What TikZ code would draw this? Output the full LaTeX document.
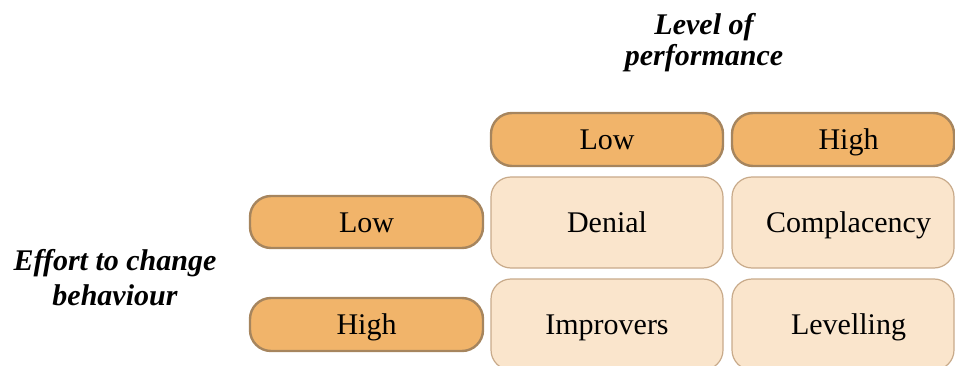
\documentclass[tikz,border=0pt]{standalone}
\usepackage{fontspec}
\setmainfont{Liberation Serif}
\definecolor{headfill}{RGB}{241,180,106}
\definecolor{headline}{RGB}{166,133,94}
\definecolor{cellfill}{RGB}{250,229,204}
\definecolor{cellline}{RGB}{200,170,138}
\begin{document}
\begin{tikzpicture}[x=1pt,y=-1pt,
  every node/.style={inner sep=0pt},
  label text/.style={font=\fontsize{30}{34}\selectfont, text height=20.5pt, text depth=0pt},
  headbox/.style={label text, draw=headline, fill=headfill, line width=2.4pt,
    rounded corners=21pt, minimum height=53pt},
  cellbox/.style={label text, draw=cellline, fill=cellfill, line width=1.2pt,
    rounded corners=20pt, minimum height=91pt},
  right column/.style={minimum width=222pt, execute at begin node={\hspace*{11pt}}},
  axistitle/.style={align=center}
]
\useasboundingbox (0,0) rectangle (955,366);

% axis titles
\node[axistitle, font=\fontsize{30}{31}\selectfont\bfseries\itshape] (perf) at (704,42.5) {Level of\\performance};
\node[axistitle, font=\fontsize{30}{34.5}\selectfont\bfseries\itshape] (effort) at (115,277.5) {Effort to change\\behaviour};

% column headers
\node[headbox, minimum width=232pt] (colLow)  at (607,139.5) {Low};
\node[headbox, right column] (colHigh) at (843,139.5) {High};

% row headers
\node[headbox, minimum width=233pt, minimum height=52pt] (rowLow)  at (366.5,222) {Low};
\node[headbox, minimum width=233pt] (rowHigh) at (366.5,324.5) {High};

% quadrant cells
\node[cellbox, minimum width=232pt] (denial)      at (607,222.5) {Denial};
\node[cellbox, right column]        (complacency) at (843,222.5) {Complacency};
\node[cellbox, minimum width=232pt] (improvers)   at (607,324.5) {Improvers};
\node[cellbox, right column]        (levelling)   at (843,324.5) {Levelling};
\end{tikzpicture}
\end{document}
